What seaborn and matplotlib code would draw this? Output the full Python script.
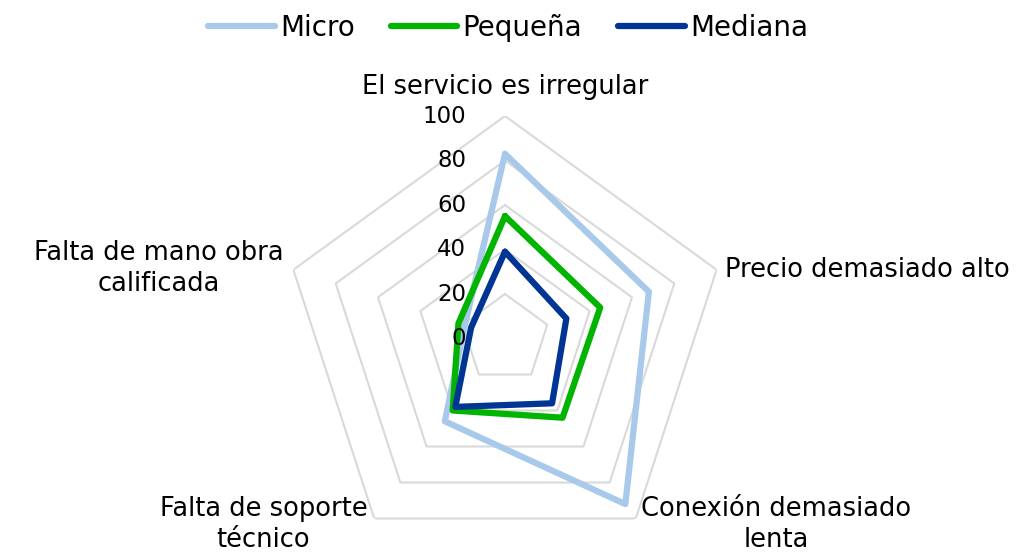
import numpy as np
import pandas as pd
import seaborn as sns
import matplotlib.pyplot as plt
from matplotlib.lines import Line2D

# categories clockwise from the top
categorias = ["El servicio es irregular", "Precio demasiado alto",
              "Conexión demasiado\nlenta", "Falta de soporte\ntécnico",
              "Falta de mano obra\ncalificada"]
micro = [83, 68, 92, 46, 19]
pequena = [55, 45, 44, 40, 22]
mediana = [39, 29, 36, 38, 16]
series = ["Micro", "Pequeña", "Mediana"]
colores = ["#A9C9EA", "#00B400", "#003594"]
ticks = [0, 20, 40, 60, 80, 100]

sns.set_theme(style="white")
plt.rcParams["font.family"] = ["DejaVu Sans"]
plt.rcParams["text.color"] = "black"

n = len(categorias)
ang = np.linspace(0, 2 * np.pi, n, endpoint=False)
ang_c = np.append(ang, ang[0])

rows = []
for nombre, vals in zip(series, [micro, pequena, mediana]):
    for i, a in enumerate(ang_c):
        rows.append({"serie": nombre, "theta": a, "valor": vals[i % n], "orden": i})
df = pd.DataFrame(rows)

fig = plt.figure(figsize=(10.36, 5.54), dpi=100)
ax = fig.add_axes([282.5 / 1036, -7 / 554, 445 / 1036, 445 / 554], projection="polar")
ax.set_theta_zero_location("N")
ax.set_theta_direction(-1)

# pentagon grid
for t in ticks[1:]:
    ax.plot(ang_c, [t] * len(ang_c), color="#D9D9D9", lw=1.5, zorder=1)

sns.lineplot(data=df, x="theta", y="valor", hue="serie", palette=colores,
             hue_order=series, sort=False, estimator=None, units="serie",
             lw=4.5, legend=False, ax=ax, zorder=3)

ax.set_ylim(0, 100)
ax.grid(False)
ax.spines["polar"].set_visible(False)
ax.set_xticks([])
ax.set_yticks([])
ax.set_xlabel("")
ax.set_ylabel("")
ax.patch.set_alpha(0)

for t in ticks:
    ax.annotate(str(t), xy=(0, t), xytext=(-28, 0), textcoords="offset points",
                ha="right", va="center", fontsize=16.5, color="black")

offsets = [(0, 21, "center", "center"), (6, 0, "left", "center"),
           (4, -4, "left", "center"), (-5, -4, "right", "center"),
           (-7, 1, "right", "center")]
for a, lab, (dx, dy, ha, va) in zip(ang, categorias, offsets):
    ax.annotate(lab, xy=(a, 100), xytext=(dx, dy), textcoords="offset points",
                ha=ha, va=va, multialignment="center", fontsize=18.5, color="black",
                linespacing=1.25)

handles = [Line2D([0], [0], color=c, lw=4.5, solid_capstyle="round") for c in colores]
fig.legend(handles, series, loc="center", bbox_to_anchor=(508 / 1036, 1 - 28 / 554),
           ncol=3, frameon=False, fontsize=20, handlelength=2.4, handletextpad=0.18,
           columnspacing=1.3, labelcolor="black")

fig.savefig("out.png", dpi=100)
